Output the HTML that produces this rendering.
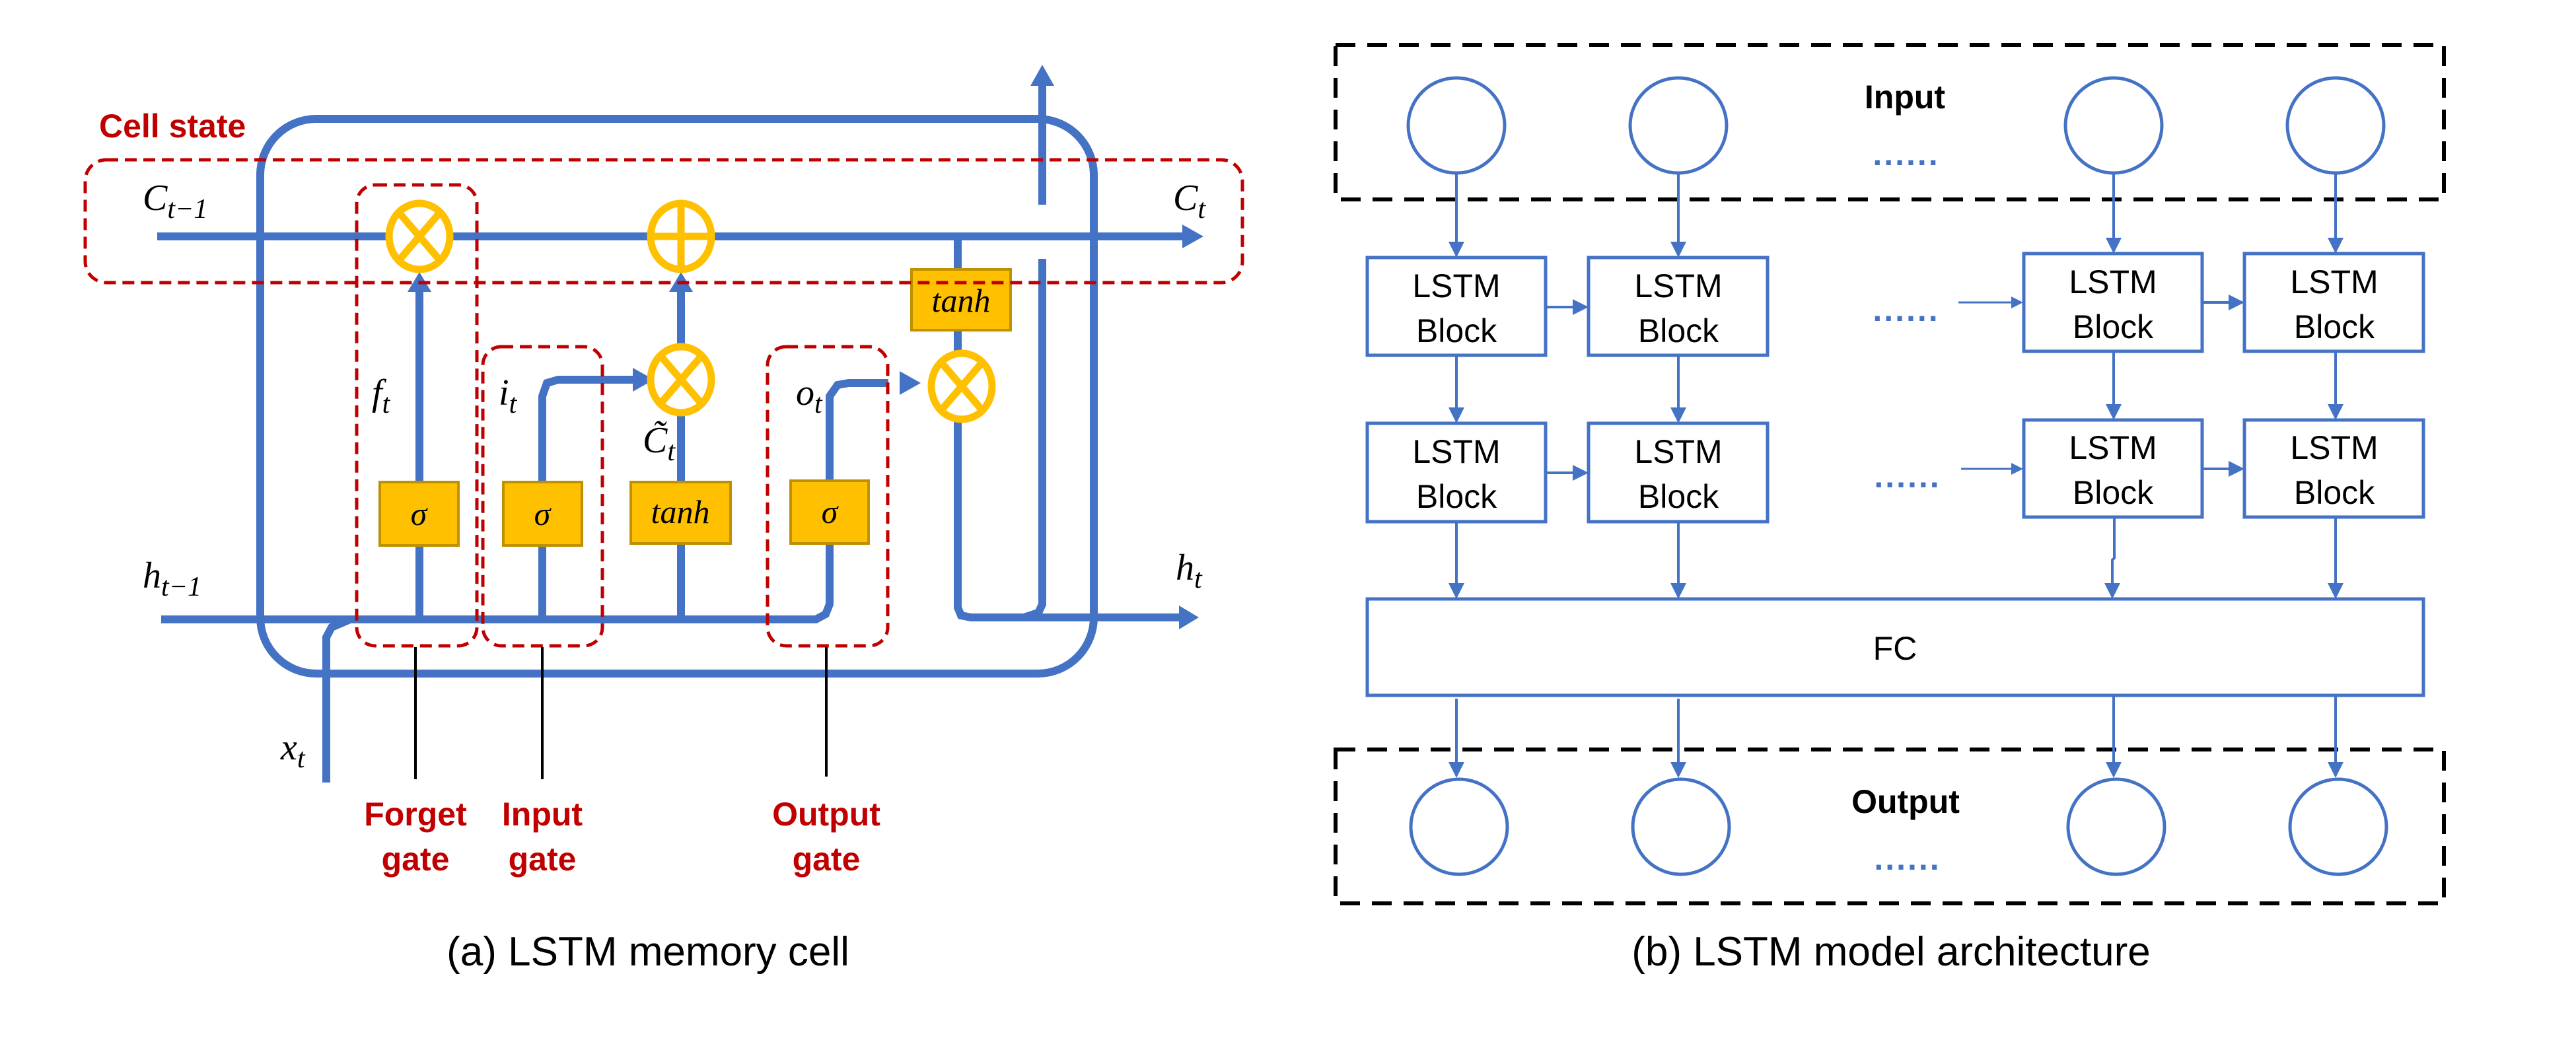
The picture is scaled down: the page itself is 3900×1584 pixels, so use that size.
<!DOCTYPE html>
<html><head><meta charset="utf-8"><style>
html,body{margin:0;padding:0;background:#fff;}
svg{display:block;}
.m{font-family:"Liberation Serif",serif;font-style:italic;fill:#000;}
.r{font-family:"Liberation Sans",sans-serif;font-weight:bold;fill:#C00000;}
.s{font-family:"Liberation Sans",sans-serif;fill:#000;}
</style></head><body>
<svg width="3900" height="1584" viewBox="0 0 3900 1584" xmlns="http://www.w3.org/2000/svg">
<defs>
<marker id="ab" markerWidth="6" markerHeight="6" refX="5" refY="3" orient="auto" markerUnits="strokeWidth"><path d="M0,0 L6,3 L0,6 z" fill="#4472C4"/></marker>
</defs>
<rect width="3900" height="1584" fill="#fff"/>
<!-- ===== LEFT PANEL ===== -->
<g fill="none" stroke="#4472C4" stroke-width="12">
  <rect x="394" y="180" width="1262" height="840" rx="85"/>
  <line x1="238" y1="358" x2="1790" y2="358"/>
  <path d="M244 938 L1235 938 L1250 930 L1256 915 L1256 600 L1268 583 L1285 580 L1345 580"/>
  <path d="M821 938 L821 600 L828 580 L845 575 L965 575"/>
  <path d="M494 1185 L494 965 L502 950 L530 938"/>
  <line x1="635" y1="938" x2="635" y2="440"/>
  <line x1="1031" y1="938" x2="1031" y2="440"/>
  <line x1="1031" y1="520" x2="1031" y2="650"/>
  <path d="M1450 358 L1450 920 L1455 932 L1470 935 L1790 935"/>
  <path d="M1578 130 L1578 310"/>
  <path d="M1578 392 L1578 915 L1572 928 L1550 935"/>
</g>
<g fill="#4472C4">
  <polygon points="1790,340 1822,358 1790,376"/>
  <polygon points="1785,917 1815,935 1785,953"/>
  <polygon points="1560,130 1578,98 1596,130"/>
  <polygon points="617,442 635,412 653,442"/>
  <polygon points="1013,442 1031,412 1049,442"/>
  <polygon points="958,557 990,575 958,593"/>
  <polygon points="1362,562 1394,580 1362,598"/>
</g>
<g stroke="#FFC000" stroke-width="11" fill="#fff">
  <ellipse cx="635" cy="358" rx="46" ry="50"/>
  <ellipse cx="1031" cy="358" rx="46" ry="50"/>
  <ellipse cx="1031" cy="575" rx="46" ry="50"/>
  <ellipse cx="1456" cy="585" rx="46" ry="50"/>
  <path d="M605 323 L665 393 M665 323 L605 393" fill="none"/>
  <path d="M1001 540 L1061 610 M1061 540 L1001 610" fill="none"/>
  <path d="M1426 550 L1486 620 M1486 550 L1426 620" fill="none"/>
  <path d="M985 358 L1077 358 M1031 308 L1031 408" fill="none"/>
</g>
<g fill="#FFC000" stroke="#BF9000" stroke-width="4">
  <rect x="575" y="730" width="119" height="96"/>
  <rect x="762" y="730" width="119" height="96"/>
  <rect x="955" y="730" width="151" height="93"/>
  <rect x="1197" y="728" width="118" height="95"/>
  <rect x="1380" y="408" width="150" height="92"/>
</g>
<g class="m" font-size="50" text-anchor="middle">
  <text x="634" y="795">σ</text>
  <text x="821" y="795">σ</text>
  <text x="1030" y="792">tanh</text>
  <text x="1256" y="792">σ</text>
  <text x="1455" y="472">tanh</text>
</g>
<g fill="none" stroke="#C00000" stroke-width="5" stroke-dasharray="18,10">
  <rect x="129" y="242" width="1752" height="186" rx="32"/>
  <rect x="540" y="280" width="182" height="698" rx="28"/>
  <rect x="731" y="525" width="181" height="453" rx="28"/>
  <rect x="1162" y="525" width="182" height="453" rx="28"/>
</g>
<g stroke="#000" stroke-width="4">
  <line x1="629" y1="980" x2="629" y2="1180"/>
  <line x1="821" y1="980" x2="821" y2="1180"/>
  <line x1="1251" y1="980" x2="1251" y2="1176"/>
</g>
<text class="r" x="150" y="208" font-size="50">Cell state</text>
<g class="r" font-size="50" text-anchor="middle">
  <text x="629" y="1250">Forget</text><text x="629" y="1318">gate</text>
  <text x="821" y="1250">Input</text><text x="821" y="1318">gate</text>
  <text x="1251" y="1250">Output</text><text x="1251" y="1318">gate</text>
</g>
<g class="m" font-size="56">
  <text x="216" y="318">C<tspan font-size="42" dy="12">t−1</tspan></text>
  <text x="216" y="890">h<tspan font-size="42" dy="12">t−1</tspan></text>
  <text x="1776" y="318">C<tspan font-size="42" dy="12">t</tspan></text>
  <text x="1780" y="878">h<tspan font-size="42" dy="12">t</tspan></text>
  <text x="563" y="613">f<tspan font-size="42" dy="12">t</tspan></text>
  <text x="755" y="613">i<tspan font-size="42" dy="12">t</tspan></text>
  <text x="1205" y="613">o<tspan font-size="42" dy="12">t</tspan></text>
  <text x="973" y="685">C̃<tspan font-size="42" dy="12">t</tspan></text>
  <text x="425" y="1150">x<tspan font-size="42" dy="12">t</tspan></text>
</g>
<text class="s" x="981" y="1462" font-size="62" text-anchor="middle">(a) LSTM memory cell</text>

<!-- ===== RIGHT PANEL ===== -->
<g fill="none" stroke="#000" stroke-width="6" stroke-dasharray="30,18">
  <rect x="2022" y="68" width="1678" height="234"/>
  <rect x="2022" y="1135" width="1678" height="233"/>
</g>
<g fill="#fff" stroke="#4472C4" stroke-width="5">
  <ellipse cx="2205" cy="190" rx="73" ry="72"/>
  <ellipse cx="2541" cy="190" rx="73" ry="72"/>
  <ellipse cx="3200" cy="190" rx="73" ry="72"/>
  <ellipse cx="3536" cy="190" rx="73" ry="72"/>
  <ellipse cx="2209" cy="1252" rx="73" ry="72"/>
  <ellipse cx="2545" cy="1252" rx="73" ry="72"/>
  <ellipse cx="3204" cy="1252" rx="73" ry="72"/>
  <ellipse cx="3540" cy="1252" rx="73" ry="72"/>
  <rect x="2070" y="390" width="270" height="148"/>
  <rect x="2405" y="390" width="271" height="148"/>
  <rect x="3064" y="384" width="270" height="148"/>
  <rect x="3398" y="384" width="271" height="148"/>
  <rect x="2070" y="641" width="270" height="149"/>
  <rect x="2405" y="641" width="271" height="149"/>
  <rect x="3064" y="636" width="270" height="147"/>
  <rect x="3398" y="636" width="271" height="147"/>
  <rect x="2070" y="907" width="1599" height="146"/>
</g>
<g stroke="#4472C4" stroke-width="4" fill="none" marker-end="url(#ab)">
  <line x1="2205" y1="262" x2="2205" y2="386"/>
  <line x1="2541" y1="262" x2="2541" y2="386"/>
  <line x1="3200" y1="262" x2="3200" y2="380"/>
  <line x1="3536" y1="262" x2="3536" y2="380"/>
  <line x1="2205" y1="538" x2="2205" y2="637"/>
  <line x1="2541" y1="538" x2="2541" y2="637"/>
  <line x1="3200" y1="532" x2="3200" y2="632"/>
  <line x1="3536" y1="532" x2="3536" y2="632"/>
  <line x1="2205" y1="790" x2="2205" y2="903"/>
  <line x1="2541" y1="790" x2="2541" y2="903"/>
  <path d="M3201 783 L3201 845 L3198 848 L3198 903"/>
  <line x1="3536" y1="783" x2="3536" y2="903"/>
  <line x1="2205" y1="1058" x2="2205" y2="1174"/>
  <line x1="2541" y1="1058" x2="2541" y2="1174"/>
  <line x1="3200" y1="1053" x2="3200" y2="1174"/>
  <line x1="3536" y1="1053" x2="3536" y2="1174"/>
  <line x1="2340" y1="465" x2="2401" y2="465"/>
  <line x1="2340" y1="716" x2="2401" y2="716"/>
  <line x1="3334" y1="458" x2="3394" y2="458"/>
  <line x1="3334" y1="710" x2="3394" y2="710"/>
  <line x1="2965" y1="458" x2="3060" y2="458" stroke-width="3"/>
  <line x1="2969" y1="710" x2="3060" y2="710" stroke-width="3"/>
</g>
<g fill="#4472C4" font-family="Liberation Sans, sans-serif" font-weight="bold" font-size="50" text-anchor="middle">
  <text x="2886" y="250" letter-spacing="3">......</text>
  <text x="2886" y="486" letter-spacing="3">......</text>
  <text x="2888" y="738" letter-spacing="3">......</text>
  <text x="2888" y="1317" letter-spacing="3">......</text>
</g>
<g class="s" font-size="50" text-anchor="middle">
  <text x="2205" y="450">LSTM</text><text x="2205" y="518">Block</text>
  <text x="2541" y="450">LSTM</text><text x="2541" y="518">Block</text>
  <text x="3199" y="444">LSTM</text><text x="3199" y="512">Block</text>
  <text x="3534" y="444">LSTM</text><text x="3534" y="512">Block</text>
  <text x="2205" y="701">LSTM</text><text x="2205" y="769">Block</text>
  <text x="2541" y="701">LSTM</text><text x="2541" y="769">Block</text>
  <text x="3199" y="695">LSTM</text><text x="3199" y="763">Block</text>
  <text x="3534" y="695">LSTM</text><text x="3534" y="763">Block</text>
  <text x="2869" y="999">FC</text>
  <text x="2884" y="164" font-weight="bold">Input</text>
  <text x="2885" y="1231" font-weight="bold">Output</text>
</g>
<text class="s" x="2863" y="1462" font-size="62" text-anchor="middle">(b) LSTM model architecture</text>
</svg>
</body></html>
